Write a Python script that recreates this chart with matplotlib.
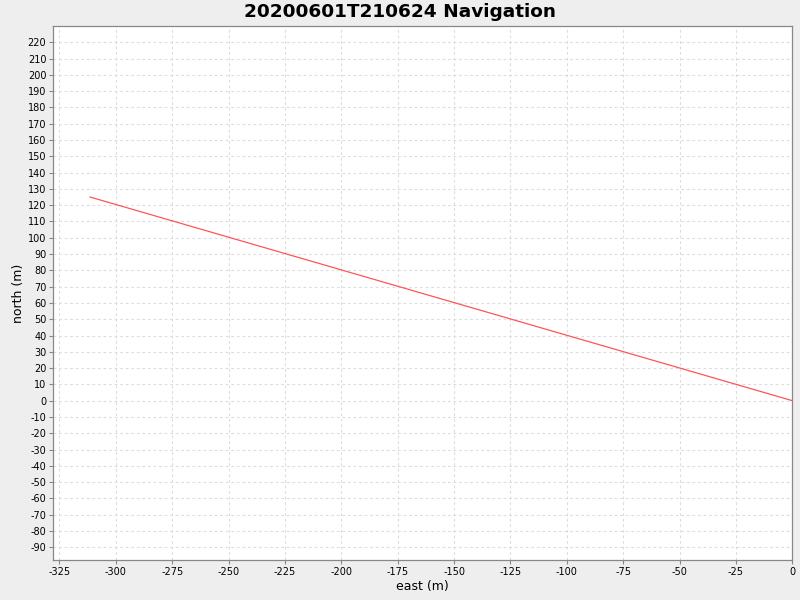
import numpy as np
import matplotlib as mpl
mpl.use("Agg")
import matplotlib.pyplot as plt
from matplotlib.ticker import MultipleLocator

TITLE = "20200601T210624 Navigation"
EAST = [-311.4, 0.0]
NORTH = [125.0, 0.0]

BG = "#EEEEEE"
GRID = "#DDDDDD"
FRAME = "#888888"

mpl.rcParams.update({"font.family": "DejaVu Sans", "axes.unicode_minus": False})

fig = plt.figure(figsize=(8, 6), dpi=100, facecolor=BG)
ax = fig.add_axes([53.3 / 800, 1 - 560 / 600, (792.3 - 53.3) / 800, (560 - 26.3) / 600])
ax.set_facecolor("white")

ax.plot(EAST, NORTH, color="#FF5555", lw=0.9)

ax.set_xlim(-327.7, 0)
ax.set_ylim(-97.8, 229.8)
ax.xaxis.set_major_locator(MultipleLocator(25))
ax.yaxis.set_major_locator(MultipleLocator(10))
ax.grid(True, color=GRID, ls=(0, (2.5, 2.5)), lw=0.8)
ax.set_axisbelow(True)

for s in ax.spines.values():
    s.set_color(FRAME)
    s.set_linewidth(0.9)
ax.tick_params(axis="both", labelsize=7, color=FRAME, length=3, width=0.8, pad=2)

ax.set_xlabel("east (m)", fontsize=9, labelpad=2)
ax.set_ylabel("north (m)", fontsize=9, labelpad=2)
fig.text(0.5, 1 - 12 / 600, TITLE, ha="center", va="center", fontsize=13.3, fontweight="bold")

fig.savefig("out.png", dpi=100, facecolor=BG)
